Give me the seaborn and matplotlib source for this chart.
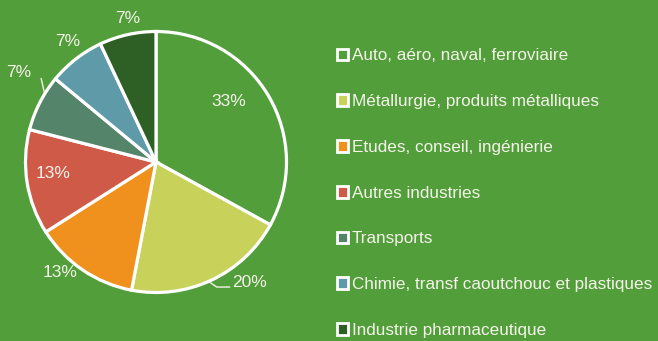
import matplotlib
matplotlib.use("Agg")
import matplotlib.pyplot as plt
from matplotlib.patches import Patch
import seaborn as sns

sectors = [
    "Auto, aéro, naval, ferroviaire",
    "Métallurgie, produits métalliques",
    "Etudes, conseil, ingénierie",
    "Autres industries",
    "Transports",
    "Chimie, transf caoutchouc et plastiques",
    "Industrie pharmaceutique",
]
shares = [33, 20, 13, 13, 7, 7, 7]
share_labels = ["33%", "20%", "13%", "13%", "7%", "7%", "7%"]

BG = "#529e3a"
colors = ["#529e3a", "#c8d15a", "#f0911e", "#d05a48", "#54856a", "#5e9aa8", "#2e6025"]
TXT = "#f4f4ea"

sns.set_theme(style="white")
plt.rcParams["font.family"] = ["Liberation Sans Narrow", "Liberation Sans", "DejaVu Sans"]

fig = plt.figure(figsize=(6.58, 3.41), dpi=100, facecolor=BG)
R = 130.5
cx, cy = 156, 162
ax = fig.add_axes([(cx - R) / 658, (341 - cy - R) / 341, 2 * R / 658, 2 * R / 341])
ax.set_facecolor(BG)

wedges, _ = ax.pie(
    shares, colors=colors, startangle=90, counterclock=False,
    wedgeprops=dict(edgecolor="white", linewidth=2.3, clip_on=False),
)
ax.set_xlim(-1, 1)
ax.set_ylim(-1, 1)
ax.set_aspect("auto")
ax.axis("off")

# label placement (data units, pie radius = 1)
label_pos = [(0.554, 0.465), (0.585, -0.92), (-0.735, -0.85), (-0.79, -0.085),
             (-1.05, 0.685), (-0.675, 0.92), (-0.215, 1.10)]
label_ha = ["center", "left", "center", "center", "center", "center", "center"]
for txt, (x, y), ha in zip(share_labels, label_pos, label_ha):
    ax.text(x, y, txt, color=TXT, fontsize=12.5, ha=ha, va="center", clip_on=False)

# leader lines for the small outside labels
ax.plot([0.41, 0.465, 0.565], [-0.92, -0.958, -0.958], color=TXT, lw=1, clip_on=False)
ax.plot([-0.88, -0.855], [0.64, 0.53], color=TXT, lw=1, clip_on=False)

handles = [Patch(facecolor=c, edgecolor="white", linewidth=2) for c in colors]
leg = fig.legend(
    handles, sectors, loc="upper left", bbox_to_anchor=(337 / 658, 1 - 48.5 / 341),
    frameon=False, fontsize=12.3, labelspacing=1.8, handlelength=0.66,
    handleheight=0.66, handletextpad=0.22, borderpad=0, borderaxespad=0,
)
for t in leg.get_texts():
    t.set_color(TXT)

fig.savefig("out.png", dpi=100, facecolor=BG)
